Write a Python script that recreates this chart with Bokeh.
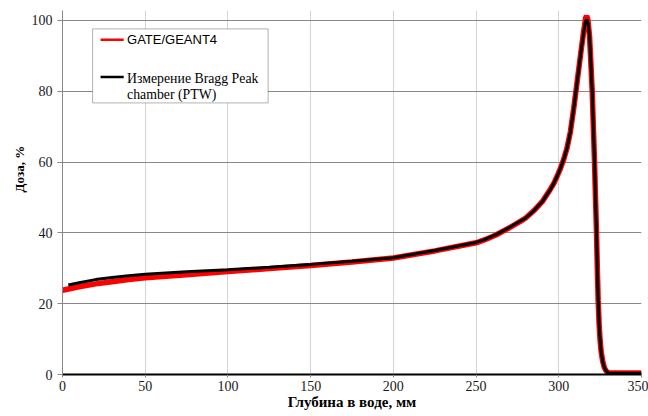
from bokeh.plotting import figure
from bokeh.models import Range1d, FixedTicker, BoxAnnotation, Label, Title
from bokeh.embed import file_html
from bokeh.resources import INLINE

# GATE/GEANT4 simulation (red)
gate_depth = [0, 5, 10, 20, 30, 40, 50, 75, 100, 125, 150, 175, 200, 225, 250, 255, 262, 270, 277,
              280, 285, 290, 295, 297, 299, 301, 303, 305, 307, 309, 310.5, 312, 313.5, 315, 316.2,
              316.8, 317.6, 318.6, 319.4, 320.2, 320.9, 321.6, 322.2, 322.8, 323.3, 323.8, 324.4,
              325, 325.6, 326.5, 327.5, 328.5, 329.5, 330.5, 340, 350]
gate_dose = [23.8, 24.3, 24.8, 25.6, 26.2, 26.8, 27.3, 28.2, 29.1, 29.9, 30.8, 31.8, 32.9, 34.9, 37.2,
             38.0, 39.4, 41.4, 43.3, 44.2, 46.3, 48.8, 52.4, 54.0, 56.0, 58.2, 60.8, 64.0, 68.5, 75.0,
             80.5, 86.0, 91.5, 96.8, 100.6, 101.3, 100.2, 95.5, 88.0, 80.0, 70.0, 60.0, 50.0, 40.0,
             30.0, 21.0, 14.0, 9.5, 6.5, 3.8, 2.0, 1.1, 0.6, 0.4, 0.4, 0.4]

# Bragg Peak chamber (PTW) measurement (black)
meas_depth = [3.5, 10, 20, 30, 40, 50, 75, 100, 125, 150, 175, 200, 225, 250, 255, 262, 270, 277,
              280, 285, 290, 295, 297, 299, 301, 303, 305, 307, 309, 310.5, 312, 313.5, 315, 316.2,
              317, 317.8, 318.6, 319.4, 320.2, 320.9, 321.6, 322.2, 322.8, 323.3, 323.8, 324.4,
              325, 325.6, 326.5, 327.5, 328.5, 329.5, 330.5, 340, 350]
meas_dose = [25.3, 25.9, 26.8, 27.4, 27.9, 28.3, 29.0, 29.6, 30.3, 31.1, 32.0, 33.0, 35.0, 37.3,
             38.1, 39.5, 41.5, 43.4, 44.2, 46.3, 48.8, 52.3, 54.0, 56.0, 58.2, 60.8, 64.0, 68.5,
             75.0, 80.5, 86.0, 91.5, 96.5, 99.8, 100.3, 99.0, 95.5, 88.0, 80.0, 70.0, 60.0, 50.0,
             40.0, 30.0, 21.0, 14.0, 9.5, 6.5, 3.8, 2.0, 1.1, 0.6, 0.4, 0.35, 0.35]

x_ticks = [0, 50, 100, 150, 200, 250, 300, 350]
y_ticks = [0, 20, 40, 60, 80, 100]

legend_gate = "GATE/GEANT4"
legend_meas_1 = "Измерение Bragg Peak"
legend_meas_2 = "chamber (PTW)"
x_title = "Глубина в воде, мм"
y_title = "Доза, %"

SERIF = "Liberation Serif"

p = figure(width=648, height=416, output_backend="svg", toolbar_location=None,
           x_range=Range1d(0, 350), y_range=Range1d(0, 102.8),
           min_border_left=62, min_border_right=7, min_border_top=10, min_border_bottom=42)
p.outline_line_color = None
p.background_fill_color = "white"
p.border_fill_color = "white"

p.line(gate_depth, gate_dose, line_color="#ff0000", line_width=5.5)
p.line(meas_depth, meas_dose, line_color="#000000", line_width=3)

# grids
p.xgrid.ticker = FixedTicker(ticks=x_ticks)
p.ygrid.ticker = FixedTicker(ticks=y_ticks)
p.xgrid.grid_line_color = "#d4d4d4"
p.xgrid.grid_line_width = 1
p.ygrid.grid_line_color = "#888888"
p.ygrid.grid_line_width = 1

# axes
p.xaxis.ticker = FixedTicker(ticks=x_ticks)
p.yaxis.ticker = FixedTicker(ticks=y_ticks)
for ax in (p.xaxis[0], p.yaxis[0]):
    ax.major_label_text_font = SERIF
    ax.major_label_text_font_size = "14px"
    ax.major_label_text_color = "#1a1a1a"
    ax.axis_label_text_font = SERIF
    ax.axis_label_text_font_style = "bold"
    ax.axis_label_text_color = "#000000"
    ax.minor_tick_line_color = None
    ax.major_tick_in = 0

p.xaxis.axis_line_color = "#000000"
p.xaxis.axis_line_width = 2
p.xaxis.major_tick_out = 3
p.xaxis.major_tick_line_color = "#888888"
p.xaxis.major_label_standoff = 3
p.xaxis.axis_label = x_title
p.xaxis.axis_label_text_font_size = "15px"
p.xaxis.axis_label_standoff = 0

p.yaxis.axis_line_color = "#888888"
p.yaxis.major_tick_out = 5
p.yaxis.major_tick_line_color = "#888888"
p.yaxis.major_label_standoff = 5

# y title as a side title, placed higher than centre like in the original
p.add_layout(Title(text=y_title, align="left", offset=182, standoff=4,
                   text_font=SERIF, text_font_size="13px", text_font_style="bold",
                   text_color="#000000"), "left")

# legend (drawn manually)
p.add_layout(BoxAnnotation(left=18.2, right=124.3, top=97.6, bottom=76.7,
                           fill_color="white", fill_alpha=1.0,
                           line_color="#000000", line_width=1))
p.add_layout(BoxAnnotation(left=23.0, right=37.0, top=94.9, bottom=94.2,
                           fill_color="#ff0000", fill_alpha=1.0, line_color=None))
p.add_layout(BoxAnnotation(left=23.0, right=37.0, top=84.4, bottom=83.7,
                           fill_color="#000000", fill_alpha=1.0, line_color=None))
p.add_layout(Label(x=39.0, y=94.5, text=legend_gate, text_font="Liberation Sans",
                   text_font_size="13px", text_baseline="middle", text_align="left",
                   text_color="#000000"))
p.add_layout(Label(x=39.0, y=83.6, text=legend_meas_1, text_font=SERIF,
                   text_font_size="13.8px", text_baseline="middle", text_align="left",
                   text_color="#000000"))
p.add_layout(Label(x=39.0, y=79.1, text=legend_meas_2, text_font=SERIF,
                   text_font_size="13.8px", text_baseline="middle", text_align="left",
                   text_color="#000000"))

open("out.html", "w").write(file_html(p, INLINE))
